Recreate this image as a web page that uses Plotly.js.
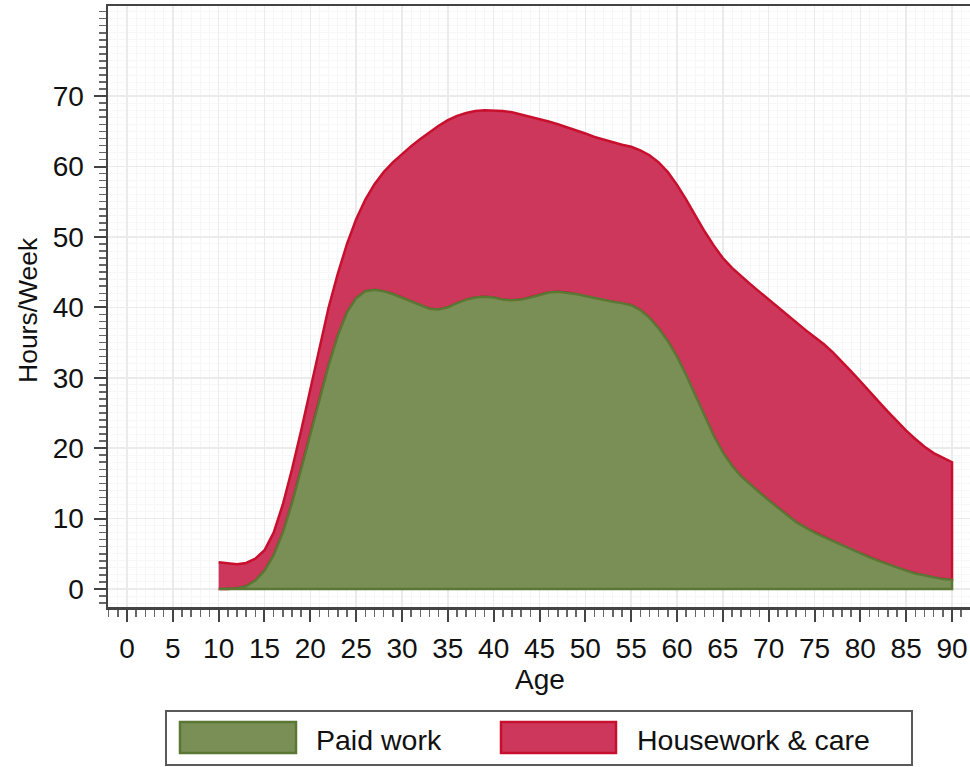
<!DOCTYPE html>
<html>
<head>
<meta charset="utf-8">
<script src="https://cdn.plot.ly/plotly-3.0.1.min.js"></script>
<style>html,body{margin:0;padding:0;background:#fff;}#chart{width:970px;height:767px;}</style>
</head>
<body>
<div id="chart"></div>
<script>
const ages = [10,11,12,13,14,15,16,17,18,19,20,21,22,23,24,25,26,27,28,29,30,31,32,33,34,35,36,37,38,39,40,41,42,43,44,45,46,47,48,49,50,51,52,53,54,55,56,57,58,59,60,61,62,63,64,65,66,67,68,69,70,71,72,73,74,75,76,77,78,79,80,81,82,83,84,85,86,87,88,89,90];
const paidWork = [0,0,0.1,0.4,1.2,2.6,4.8,8.0,12.2,17.0,22.0,27.0,31.8,36.0,39.3,41.3,42.3,42.5,42.3,41.9,41.4,40.9,40.3,39.8,39.7,40.0,40.6,41.1,41.4,41.5,41.4,41.1,41.0,41.1,41.4,41.8,42.1,42.2,42.1,41.9,41.6,41.3,41.0,40.8,40.6,40.3,39.6,38.5,37.0,35.2,33.0,30.4,27.5,24.6,21.8,19.4,17.5,16.0,14.8,13.7,12.6,11.5,10.5,9.5,8.7,8.0,7.4,6.8,6.2,5.6,5.0,4.5,4.0,3.5,3.0,2.6,2.2,1.9,1.6,1.4,1.3];
const houseworkCare = [3.8,3.6,3.4,3.3,3.1,2.9,3.2,4.0,4.8,5.5,6.5,7.5,8.2,8.8,9.7,11.2,13.0,15.0,16.9,18.7,20.4,22.0,23.6,25.1,26.1,26.6,26.6,26.5,26.5,26.5,26.6,26.8,26.7,26.3,25.7,24.9,24.3,23.8,23.5,23.3,23.1,22.9,22.8,22.6,22.5,22.5,22.7,23.1,23.6,24.0,24.4,24.9,25.5,26.2,27.0,27.6,28.1,28.4,28.5,28.5,28.5,28.5,28.4,28.3,28.1,27.8,27.4,26.8,26.1,25.3,24.5,23.5,22.6,21.7,20.8,19.9,19.1,18.3,17.7,17.2,16.7];
const seriesNames = ["Paid work","Housework & care"];
const xTicks = [0,5,10,15,20,25,30,35,40,45,50,55,60,65,70,75,80,85,90];
const yTicks = [0,10,20,30,40,50,60,70];

const RED_FILL = "#cc375b", RED_LINE = "#c8102e";
const GREEN_FILL = "#7a8f56", GREEN_LINE = "#5b7734";

// stacked top = paid + housework
const stackedTop = ages.map((a,i)=>paidWork[i]+houseworkCare[i]);
const revAges = ages.slice().reverse();

const redTrace = {
  x: ages.concat(revAges),
  y: stackedTop.concat(paidWork.slice().reverse()),
  type: "scatter", mode: "lines", fill: "toself",
  fillcolor: RED_FILL, line: {color: RED_LINE, width: 2.5},
  name: seriesNames[1], showlegend: false, hoverinfo: "skip"
};
const greenTrace = {
  x: ages.concat([ages[ages.length-1], ages[0]]),
  y: paidWork.concat([0,0]),
  type: "scatter", mode: "lines", fill: "toself",
  fillcolor: GREEN_FILL, line: {color: GREEN_LINE, width: 2.5},
  name: seriesNames[0], showlegend: false, hoverinfo: "skip"
};

const FONT = 'Arial, "Liberation Sans", sans-serif';
const W = 970, H = 767, L = 108, R = 0, T = 6, B = 160;
const pw = W - L - R, ph = H - T - B;
const px = v => (v - L) / pw;
const py = v => (H - B - v) / ph;

const shapes = [
  {type:"rect", xref:"paper", yref:"paper", x0:px(166), x1:px(912), y0:py(711), y1:py(765),
   line:{color:"#5a5a5a", width:2}, fillcolor:"#ffffff", layer:"above"},
  {type:"rect", xref:"paper", yref:"paper", x0:px(180), x1:px(296), y0:py(722), y1:py(753),
   line:{color:GREEN_LINE, width:2.5}, fillcolor:GREEN_FILL, layer:"above"},
  {type:"rect", xref:"paper", yref:"paper", x0:px(501), x1:px(616), y0:py(722), y1:py(753),
   line:{color:RED_LINE, width:2.5}, fillcolor:RED_FILL, layer:"above"}
];

const annotations = [
  {text:"Paid work", xref:"paper", yref:"paper", x:px(314), y:py(740), xanchor:"left", yanchor:"middle",
   showarrow:false, font:{family:FONT, size:28.5, color:"#111"}},
  {text:"Housework &amp; care", xref:"paper", yref:"paper", x:px(635), y:py(740), xanchor:"left", yanchor:"middle",
   showarrow:false, font:{family:FONT, size:28.5, color:"#111"}},
  {text:"Age", xref:"paper", yref:"paper", x:px(540), y:py(680), xanchor:"center", yanchor:"middle",
   showarrow:false, font:{family:FONT, size:28, color:"#111"}},
  {text:"Hours/Week", xref:"paper", yref:"paper", x:px(28), y:py(310), xanchor:"center", yanchor:"middle",
   textangle:-90, showarrow:false, font:{family:FONT, size:26.5, color:"#111"}}
];

const layout = {
  width: W, height: H,
  margin: {l:L, r:R, t:T, b:B, pad:0},
  paper_bgcolor: "#ffffff", plot_bgcolor: "#ffffff",
  showlegend: false,
  font: {family: FONT, color: "#111"},
  xaxis: {
    range: [-2.07, 91.96], tickmode: "array", tickvals: xTicks, ticktext: xTicks.map(String),
    ticks: "outside", ticklen: 12, tickwidth: 2, tickcolor: "#444",
    tickfont: {family: FONT, size: 28, color: "#111"}, ticklabelstandoff: 3,
    showline: true, linecolor: "#444", linewidth: 2.5, mirror: true,
    showgrid: true, gridcolor: "#ebebeb", gridwidth: 1.5,
    minor: {dtick: 1, ticks: "outside", ticklen: 7, tickwidth: 1.5, tickcolor: "#666",
            showgrid: true, gridcolor: "#f6f6f6", gridwidth: 1},
    zeroline: false, fixedrange: true
  },
  yaxis: {
    range: [-2.56, 82.8], tickmode: "array", tickvals: yTicks, ticktext: yTicks.map(String),
    ticks: "outside", ticklen: 12, tickwidth: 2, tickcolor: "#444",
    tickfont: {family: FONT, size: 28, color: "#111"}, ticklabelstandoff: 4,
    showline: true, linecolor: "#444", linewidth: 2.5, mirror: false,
    showgrid: true, gridcolor: "#ebebeb", gridwidth: 1.5,
    minor: {dtick: 1, ticks: "outside", ticklen: 7, tickwidth: 1.5, tickcolor: "#666",
            showgrid: true, gridcolor: "#f7f7f7", gridwidth: 1},
    zeroline: false, fixedrange: true
  },
  shapes: shapes,
  annotations: annotations
};

Plotly.newPlot("chart", [redTrace, greenTrace], layout, {displayModeBar: false, staticPlot: true});
</script>
</body>
</html>
